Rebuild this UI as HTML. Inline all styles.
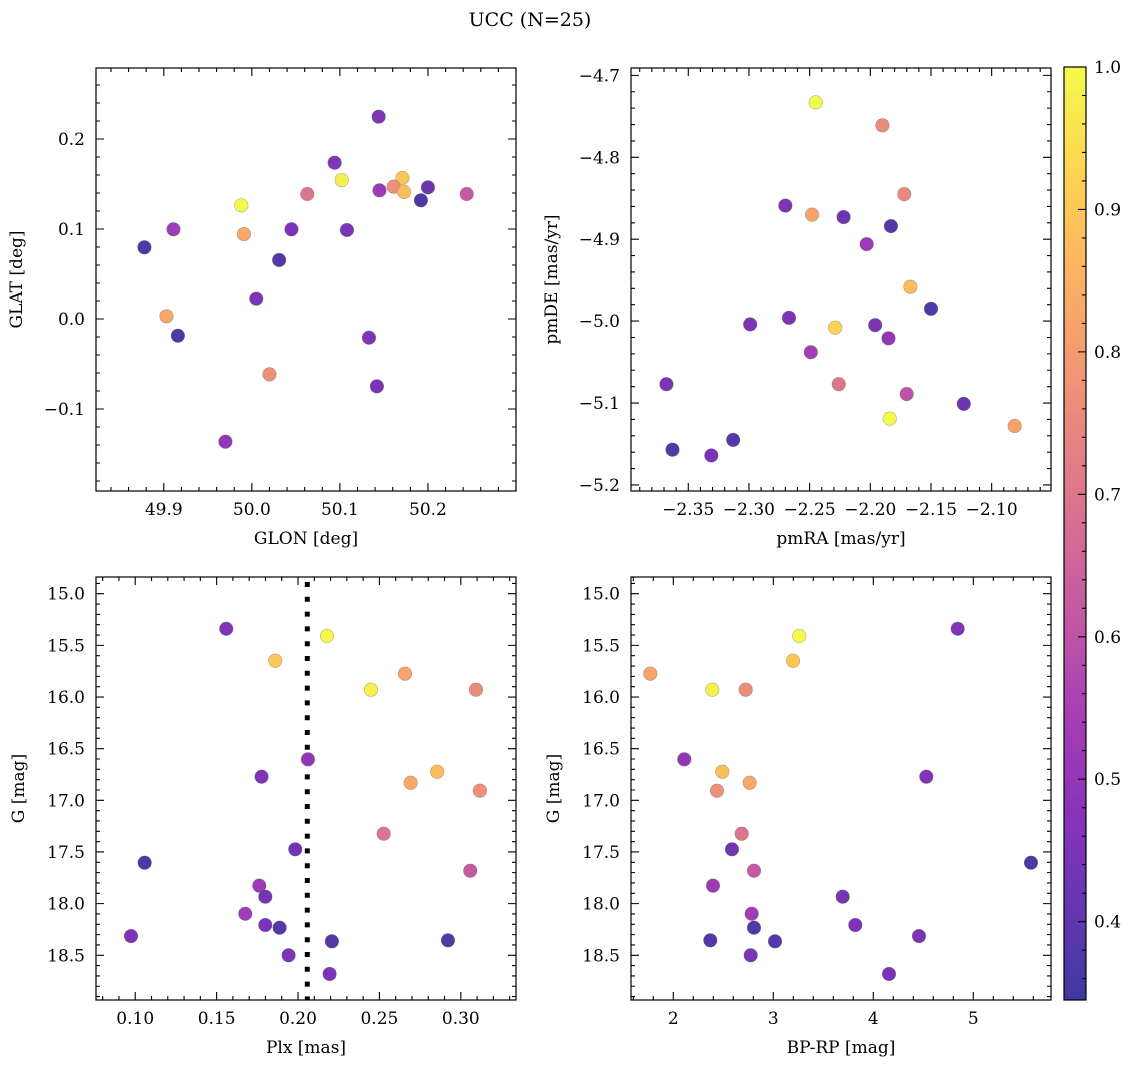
<!DOCTYPE html>
<html><head><meta charset="utf-8">
<style>
html,body{margin:0;padding:0;background:#fff;}
svg{display:block;font-family:"DejaVu Serif","Liberation Serif",serif;}
</style></head>
<body>
<svg id="fig" width="1136" height="1067" viewBox="0 0 1136 1067" xmlns="http://www.w3.org/2000/svg">
<rect width="1136" height="1067" fill="#fff"/>
<text x="530" y="26" text-anchor="middle" font-size="19">UCC (N=25)</text>
</svg>
<script>
// ---- Panel 1: GLON vs GLAT ----
const glonX = [50.144,50.094,50.102,50.171,50.161,50.173,50.145,50.200,50.192,50.244,50.063,49.988,49.991,50.045,50.108,49.911,49.878,50.031,50.005,49.903,49.916,50.133,50.020,50.142,49.970];
const glatY = [0.2248,0.1737,0.1544,0.1567,0.1470,0.1411,0.1430,0.1463,0.1319,0.1389,0.1389,0.1263,0.0944,0.0997,0.0989,0.0997,0.0797,0.0656,0.0226,0.0030,-0.0186,-0.0208,-0.0615,-0.0748,-0.1363];
const glProb = [0.46,0.46,0.98,0.90,0.77,0.88,0.52,0.42,0.37,0.62,0.70,1.0,0.83,0.45,0.45,0.53,0.37,0.38,0.45,0.83,0.37,0.46,0.77,0.45,0.50];
const glonTicks = [49.9,50.0,50.1,50.2];
const glatTicks = [-0.1,0.0,0.1,0.2];
// ---- Panel 2: pmRA vs pmDE ----
const pmraX = [-2.245,-2.190,-2.172,-2.270,-2.248,-2.222,-2.183,-2.203,-2.167,-2.150,-2.299,-2.267,-2.229,-2.196,-2.185,-2.249,-2.226,-2.170,-2.368,-2.123,-2.184,-2.081,-2.363,-2.331,-2.313];
const pmdeY = [-4.733,-4.761,-4.845,-4.859,-4.870,-4.873,-4.884,-4.906,-4.958,-4.985,-5.004,-4.996,-5.008,-5.005,-5.021,-5.038,-5.077,-5.089,-5.077,-5.101,-5.119,-5.128,-5.157,-5.164,-5.145];
const pmProb = [1.0,0.76,0.75,0.45,0.82,0.42,0.38,0.52,0.88,0.37,0.45,0.45,0.92,0.45,0.50,0.54,0.70,0.60,0.45,0.42,1.0,0.82,0.38,0.45,0.38];
const pmraTicks = [-2.35,-2.30,-2.25,-2.20,-2.15,-2.10];
const pmdeTicks = [-5.2,-5.1,-5.0,-4.9,-4.8,-4.7];
// ---- Panel 3: Plx vs G ----
const plxX = [0.1559,0.2178,0.1860,0.2657,0.2448,0.3093,0.2061,0.1776,0.2855,0.2692,0.3117,0.2526,0.1983,0.1058,0.3058,0.1762,0.1799,0.1676,0.1799,0.1887,0.0974,0.2208,0.2921,0.1942,0.2194];
const gMag = [15.339,15.409,15.649,15.774,15.929,15.929,16.603,16.771,16.723,16.830,16.907,17.323,17.474,17.604,17.681,17.826,17.933,18.098,18.207,18.233,18.314,18.365,18.355,18.500,18.681];
const plxProb = [0.46,1.0,0.90,0.82,0.98,0.76,0.50,0.46,0.88,0.83,0.77,0.70,0.43,0.37,0.62,0.52,0.44,0.53,0.45,0.38,0.45,0.38,0.38,0.45,0.45];
const plxTicks = [0.10,0.15,0.20,0.25,0.30];
const gTicks = [15.0,15.5,16.0,16.5,17.0,17.5,18.0,18.5];
const plxMedian = [0.2057];
// ---- Panel 4: BP-RP vs G ----
const bprpX = [4.844,3.26,3.197,1.77,2.39,2.724,2.11,2.49,2.764,2.437,4.53,2.684,2.587,5.577,2.807,2.397,3.694,2.784,3.82,2.807,4.457,2.37,3.017,2.774,4.157];
const gMag2 = [15.339,15.409,15.649,15.774,15.929,15.929,16.603,16.723,16.830,16.907,16.771,17.323,17.474,17.604,17.681,17.826,17.933,18.098,18.207,18.233,18.314,18.355,18.365,18.500,18.681];
const bprpProb = [0.46,1.0,0.90,0.82,0.98,0.76,0.50,0.88,0.83,0.77,0.46,0.70,0.43,0.37,0.62,0.52,0.44,0.53,0.45,0.38,0.45,0.38,0.38,0.45,0.45];
const bprpTicks = [2,3,4,5];
// ---- Colorbar ----
const cbarTicks = [0.4,0.5,0.6,0.7,0.8,0.9,1.0];
const cbarMin = 0.345, cbarMax = 1.0;

const NS = "http://www.w3.org/2000/svg";
const svg = document.getElementById('fig');
const plasma = [[13,8,135],[65,4,157],[106,0,168],[143,13,164],[177,42,144],[204,71,120],[225,100,98],[242,132,75],[252,166,54],[252,206,37],[240,249,33]];
function cmap(v){
  let t = (v - cbarMin)/(cbarMax - cbarMin); t = Math.max(0, Math.min(1, t));
  const p = t*10, i = Math.min(9, Math.floor(p)), f = p - i;
  const a = plasma[i], b = plasma[i+1];
  const c = [0,1,2].map(k => Math.round((a[k] + (b[k]-a[k])*f)*0.8 + 255*0.2));
  return `rgb(${c[0]},${c[1]},${c[2]})`;
}
function el(tag, attrs, parent){
  const e = document.createElementNS(NS, tag);
  for (const k in attrs) e.setAttribute(k, attrs[k]);
  (parent || svg).appendChild(e);
  return e;
}
function fmt(v, d){ const s = Math.abs(v).toFixed(d); return (v < -1e-9 ? '\u2212' : '') + s; }

function panel(o){
  const g = el('g', {});
  
  
  const X = v => o.x0 + (v - o.xd[0])/(o.xd[1]-o.xd[0])*o.w;
  const Y = o.yInv ? (v => o.y0 + (v - o.yd[0])/(o.yd[1]-o.yd[0])*o.h)
                   : (v => o.y0 + o.h - (v - o.yd[0])/(o.yd[1]-o.yd[0])*o.h);
  const mk = (v0, v1, step) => { const a = []; const s = Math.ceil(v0/step - 1e-6); for (let i = s; i*step <= v1 + 1e-9; i++) a.push(+(i*step).toFixed(6)); return a; };
  const xmin = mk(o.xd[0], o.xd[1], o.xminor), ymin = mk(Math.min(...o.yd), Math.max(...o.yd), o.yminor);
  let d = '';
  xmin.forEach(v => { const x = X(v); if (x < o.x0 || x > o.x0+o.w) return; d += `M${x},${o.y0+o.h}v-4M${x},${o.y0}v4`; });
  ymin.forEach(v => { const y = Y(v); if (y < o.y0 || y > o.y0+o.h) return; d += `M${o.x0},${y}h4M${o.x0+o.w},${y}h-4`; });
  o.xticks.forEach(v => { const x = X(v); d += `M${x},${o.y0+o.h}v-8M${x},${o.y0}v8`; });
  o.yticks.forEach(v => { const y = Y(v); d += `M${o.x0},${y}h8M${o.x0+o.w},${y}h-8`; });
  const tk = el('path', {d: d, stroke: '#000', 'stroke-width': 1.1, fill: 'none'}, g);
  
  
  o.xticks.forEach(v => {
    const t = el('text', {x: X(v), y: o.y0+o.h+24, 'text-anchor': 'middle', 'font-size': 17}, g);
    t.textContent = fmt(v, o.xdec);
    
    
  });
  o.yticks.forEach(v => {
    const t = el('text', {x: o.x0-11, y: Y(v)+6, 'text-anchor': 'end', 'font-size': 17}, g);
    t.textContent = fmt(v, o.ydec);
    
    
  });
  const xl = el('text', {x: o.x0+o.w/2, y: o.y0+o.h+53, 'text-anchor': 'middle', 'font-size': 17}, g);
  xl.textContent = o.xlabel;
  
  
  const yl = el('text', {x: 0, y: 0, 'text-anchor': 'middle', 'font-size': 17, transform: `translate(${o.ylx},${o.y0+o.h/2}) rotate(-90)`}, g);
  yl.textContent = o.ylabel;
  
  
  if (o.vline) o.vline.forEach(v => {
    const ln = el('line', {x1: X(v), x2: X(v), y1: o.y0+5, y2: o.y0+o.h, stroke: '#000', 'stroke-width': 5, 'stroke-dasharray': '5 9.8'}, g);
    
    
  });
  for (let i = 0; i < o.xs.length; i++){
    const c = el('circle', {cx: X(o.xs[i]), cy: Y(o.ys[i]), r: 6.8, fill: cmap(o.cs[i]), stroke: 'rgba(90,90,90,0.45)', 'stroke-width': 0.6}, g);
    
    
  }
  const fr = el('rect', {x: o.x0, y: o.y0, width: o.w, height: o.h, fill: 'none', stroke: '#000', 'stroke-width': 1.2}, g);
  
  
}

panel({name:'glon-glat-panel', x0:96, y0:68, w:420, h:423, xd:[49.823,50.300], yd:[-0.1911,0.2789], xminor:0.02, yminor:0.02,
  xticks:glonTicks, yticks:glatTicks, xdec:1, ydec:1, xlabel:'GLON [deg]', ylabel:'GLAT [deg]', ylx:22, xs:glonX, ys:glatY, cs:glProb});
panel({name:'pm-panel', x0:631, y0:68, w:420, h:423, xd:[-2.3972,-2.0511], yd:[-5.2074,-4.691], xminor:0.01, yminor:0.02,
  xticks:pmraTicks, yticks:pmdeTicks, xdec:2, ydec:1, xlabel:'pmRA [mas/yr]', ylabel:'pmDE [mas/yr]', ylx:557, xs:pmraX, ys:pmdeY, cs:pmProb});
panel({name:'plx-g-panel', x0:96, y0:577, w:420, h:423, xd:[0.0759,0.3339], yd:[14.838,18.933], yInv:true, xminor:0.01, yminor:0.1,
  xticks:plxTicks, yticks:gTicks, xdec:2, ydec:1, xlabel:'Plx [mas]', ylabel:'G [mag]', ylx:24, xs:plxX, ys:gMag, cs:plxProb, vline:plxMedian});
panel({name:'cmd-panel', x0:631, y0:577, w:420, h:423, xd:[1.577,5.777], yd:[14.838,18.933], yInv:true, xminor:0.2, yminor:0.1,
  xticks:bprpTicks, yticks:gTicks, xdec:0, ydec:1, xlabel:'BP-RP [mag]', ylabel:'G [mag]', ylx:559, xs:bprpX, ys:gMag2, cs:bprpProb});

// colorbar
(function(){
  const x0 = 1064, y0 = 67, w = 22, h = 933;
  const g = el('g', {});
  
  
  const defs = el('defs', {}, g);
  const lg = el('linearGradient', {id: 'cbg', x1: 0, y1: 1, x2: 0, y2: 0}, defs);
  for (let i = 0; i <= 20; i++){
    const v = cbarMin + (cbarMax - cbarMin)*i/20;
    el('stop', {offset: (i/20), 'stop-color': cmap(v)}, lg);
  }
  const r = el('rect', {x: x0, y: y0, width: w, height: h, fill: 'url(#cbg)', stroke: '#000', 'stroke-width': 1.2}, g);
  
  
  const Y = v => y0 + h - (v - cbarMin)/(cbarMax - cbarMin)*h;
  let d = '';
  for (let i = 18; i <= 50; i++){ const v = i*0.02; if (v < cbarMin || v > cbarMax + 1e-9) continue; d += `M${x0+w},${Y(v)}h-4`; }
  cbarTicks.forEach(v => { d += `M${x0+w},${Y(v)}h-8`; });
  el('path', {d: d, stroke: '#000', 'stroke-width': 1.1}, g);
  cbarTicks.forEach(v => {
    const t = el('text', {x: x0+w+8, y: Y(v)+6, 'font-size': 17}, g);
    t.textContent = v.toFixed(1);
    
    
  });
})();
</script>
</body></html>
